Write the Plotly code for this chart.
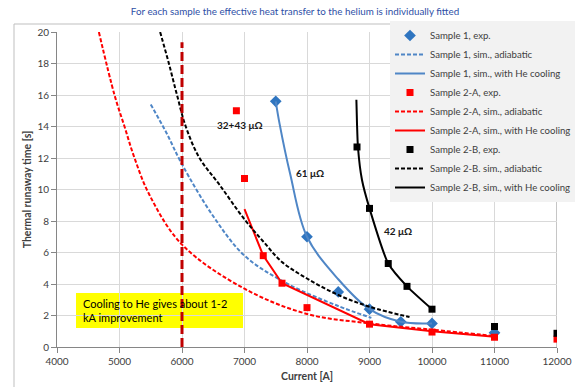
import plotly.graph_objects as go

# ---------------- data ----------------
s1_exp_x = [7500, 8000, 8500, 9000, 9500, 10000, 11000]
s1_exp_y = [15.6, 7.0, 3.5, 2.4, 1.6, 1.5, 0.9]
s1_adi_x = [5500, 5750, 6000, 6500, 7000, 7670, 8500, 9030]
s1_adi_y = [15.4, 13.6, 11.6, 8.3, 5.8, 4.05, 2.6, 1.85]
s1_he_x = [7500, 7560, 7730, 8000, 8500, 9000, 9500, 10000]
s1_he_y = [15.6, 14.2, 11.0, 7.0, 4.3, 2.4, 1.6, 1.5]

s2a_exp_x = [6870, 7000, 7300, 7600, 8000, 9000, 10000, 11000, 12000]
s2a_exp_y = [15.0, 10.7, 5.8, 4.05, 2.5, 1.45, 0.95, 0.62, 0.5]
s2a_adi_x = [4670, 4920, 5080, 5240, 5480, 6000, 7000, 8000, 9000, 10000, 11000]
s2a_adi_y = [20.0, 16.0, 14.0, 12.0, 9.65, 6.5, 3.7, 2.1, 1.5, 1.1, 0.7]
s2a_he_x = [7000, 7300, 7600, 9000, 10000, 11000]
s2a_he_y = [8.75, 5.8, 4.05, 1.45, 1.0, 0.65]

s2b_exp_x = [8800, 9000, 9300, 9600, 10000, 11000, 12000]
s2b_exp_y = [12.7, 8.8, 5.3, 3.85, 2.4, 1.3, 0.87]
s2b_adi_x = [5650, 5790, 5920, 6060, 6280, 6600, 7000, 7300, 7600, 8000, 8500, 9000, 9640]
s2b_adi_y = [20.0, 18.0, 16.0, 14.0, 12.0, 10.3, 8.1, 6.7, 5.4, 4.35, 3.3, 2.56, 1.9]
s2b_he_x = [8790, 8800, 8815, 8880, 9000, 9300, 9600, 10000]
s2b_he_y = [15.7, 14.2, 12.7, 10.6, 8.8, 5.3, 3.85, 2.4]

limit_x = [6000, 6000]
limit_y = [0, 19.35]

labels_text = ["32+43 μΩ", "61 μΩ", "42 μΩ"]
labels_x = [6920, 8040, 9453]
labels_y = [14.1, 11.07, 7.38]

x_ticks = [4000, 5000, 6000, 7000, 8000, 9000, 10000, 11000, 12000]
y_ticks = [0, 2, 4, 6, 8, 10, 12, 14, 16, 18, 20]

title_text = "For each sample the effective heat transfer to the helium is individually fitted"
note_text = "Cooling to He gives about 1-2<br>kA improvement"

# ---------------- styles ----------------
FONT = "Lato"
BLUE_M = "#2f75c0"
BLUE_L = "#4f86c6"
RED = "#ff0000"
BLACK = "#000000"
L, R, T, B = 57, 18, 32, 40
PW, PH = 575 - L - R, 387 - T - B


def px_x(p):
    return (p - L) / PW


def px_y(p):
    return (387 - B - p) / PH


fig = go.Figure()

fig.add_trace(go.Scatter(x=s1_exp_x, y=s1_exp_y, mode="markers", name="Sample 1, exp.",
                         marker=dict(symbol="diamond", size=9, color=BLUE_M)))
fig.add_trace(go.Scatter(x=s1_adi_x, y=s1_adi_y, mode="lines", name="Sample 1, sim., adiabatic",
                         line=dict(color=BLUE_L, width=2, dash="4px,2px", shape="spline")))
fig.add_trace(go.Scatter(x=s1_he_x, y=s1_he_y, mode="lines", name="Sample 1, sim., with He cooling",
                         line=dict(color=BLUE_L, width=2, shape="spline")))
fig.add_trace(go.Scatter(x=s2a_exp_x, y=s2a_exp_y, mode="markers", name="Sample 2-A, exp.",
                         marker=dict(symbol="square", size=7, color=RED)))
fig.add_trace(go.Scatter(x=s2a_adi_x, y=s2a_adi_y, mode="lines", name="Sample 2-A, sim., adiabatic",
                         line=dict(color=RED, width=2, dash="4px,2px", shape="spline")))
fig.add_trace(go.Scatter(x=s2a_he_x, y=s2a_he_y, mode="lines", name="Sample 2-A, sim., with He cooling",
                         line=dict(color=RED, width=2)))
fig.add_trace(go.Scatter(x=s2b_exp_x, y=s2b_exp_y, mode="markers", name="Sample 2-B, exp.",
                         marker=dict(symbol="square", size=7, color=BLACK)))
fig.add_trace(go.Scatter(x=s2b_adi_x, y=s2b_adi_y, mode="lines", name="Sample 2-B. sim., adiabatic",
                         line=dict(color=BLACK, width=2, dash="4px,2px", shape="spline")))
fig.add_trace(go.Scatter(x=s2b_he_x, y=s2b_he_y, mode="lines", name="Sample 2-B, sim., with He cooling",
                         line=dict(color=BLACK, width=2, shape="spline", smoothing=0.6)))
fig.add_trace(go.Scatter(x=limit_x, y=limit_y, mode="lines", showlegend=False,
                         line=dict(color="#c00000", width=3, dash="9px,4px")))

for t, x, y in zip(labels_text, labels_x, labels_y):
    fig.add_annotation(x=x, y=y, text="<b>" + t + "</b>", showarrow=False,
                       font=dict(family=FONT, size=10, color="#1a1a1a"))

# yellow note box (between grid and traces) + text
fig.add_shape(type="rect", xref="paper", yref="paper", layer="between",
              x0=px_x(76), x1=px_x(243), y0=px_y(328), y1=px_y(293),
              fillcolor="#ffff00", line=dict(width=0))
fig.add_annotation(xref="paper", yref="paper", x=px_x(81), y=px_y(310.5),
                   xanchor="left", yanchor="middle", align="left", showarrow=False,
                   text=note_text, font=dict(family=FONT, size=11, color="#000000"))

# darker right-hand line at the end of the x axis
fig.add_shape(type="line", xref="x", yref="paper", x0=x_ticks[-1], x1=x_ticks[-1], y0=0, y1=1,
              line=dict(color="#8c8c8c", width=1), layer="between")

# outer chart frame (left and top visible)
fig.add_shape(type="rect", xref="paper", yref="paper", layer="above",
              x0=px_x(14), x1=px_x(590), y0=px_y(400), y1=px_y(24),
              line=dict(color="#bfbfbf", width=1))

fig.update_layout(
    width=575, height=387,
    margin=dict(l=L, r=R, t=T, b=B, autoexpand=False),
    paper_bgcolor="white", plot_bgcolor="white",
    font=dict(family=FONT, size=10, color="#404040"),
    title=dict(text=title_text, x=295 / 575, xanchor="center", xref="container",
               y=1 - 12 / 387, yanchor="middle", yref="container",
               font=dict(family=FONT, size=9.8, color="#2e4fa6")),
    showlegend=True,
    legend=dict(x=px_x(390), y=px_y(21), xanchor="left", yanchor="top",
                bgcolor="#f2f2f2", borderwidth=0, font=dict(family=FONT, size=9.6, color="#404040"),
                tracegroupgap=0, itemwidth=30),
    xaxis=dict(range=[4000, 12000], tickvals=x_ticks, tickformat="d",
               showgrid=True, gridcolor="#d9d9d9", gridwidth=1,
               showline=True, linecolor="#868686", ticks="outside", ticklen=5, tickcolor="#868686",
               zeroline=False, tickfont=dict(size=10, color="#404040"),
               title=dict(text="<b>Current [A]</b>", font=dict(size=10.5, color="#404040"), standoff=6)),
    yaxis=dict(range=[0, 20], tickvals=y_ticks,
               showgrid=True, gridcolor="#d9d9d9", gridwidth=1,
               showline=True, linecolor="#868686", ticks="outside", ticklen=5, tickcolor="#868686",
               zeroline=False, tickfont=dict(size=10, color="#404040"),
               title=dict(text="<b>Thermal runaway time [s]</b>", font=dict(size=10.5, color="#404040"), standoff=3)),
)

fig.write_html("out.html", config={"displayModeBar": False},
               post_script="document.body.style.margin='0px';")
